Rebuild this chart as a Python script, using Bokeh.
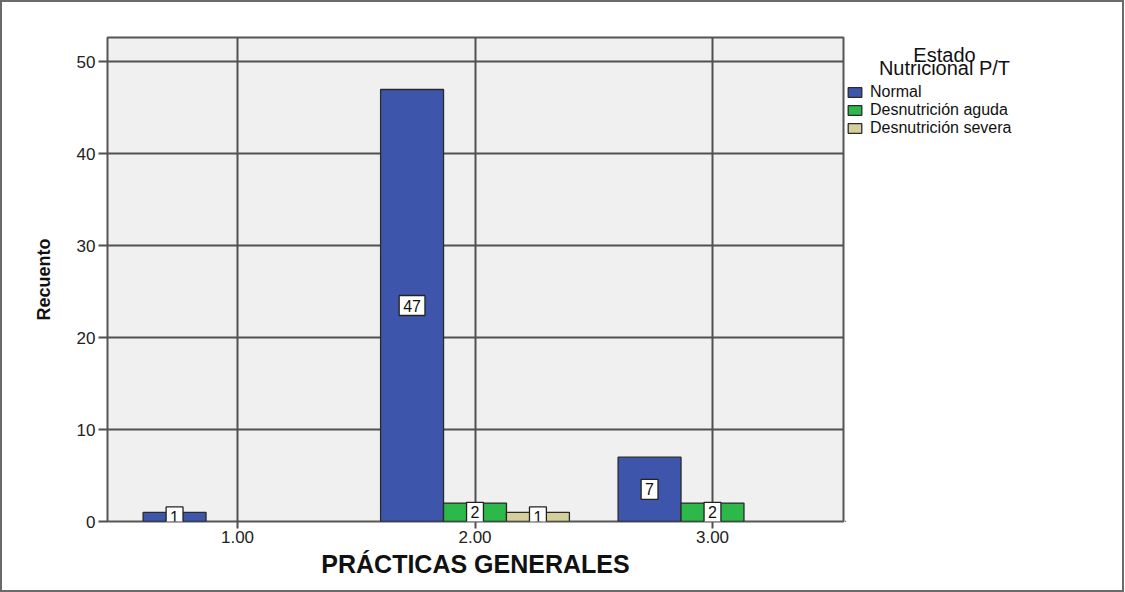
from bokeh.plotting import figure
from bokeh.layouts import row
from bokeh.models import Label, Legend, LegendItem, FixedTicker, Range1d
from bokeh.embed import file_html
from bokeh.resources import INLINE

# Counts per "PRÁCTICAS GENERALES" group, split by nutritional status
groups = [1.0, 2.0, 3.0]
tick_labels = {1: "1.00", 2: "2.00", 3: "3.00"}
series_names = ["Normal", "Desnutrición aguda", "Desnutrición severa"]
normal = [1, 47, 7]
aguda = [0, 2, 2]
severa = [0, 1, 0]
series_values = [normal, aguda, severa]
series_colors = ["#3D56AC", "#2DB84A", "#D5D09B"]
y_ticks = [0, 10, 20, 30, 40, 50]
legend_title = ["Estado", "Nutricional P/T"]

BAR_W = 0.265
offsets = [-BAR_W, 0.0, BAR_W]
H = 588

p = figure(
    width=843, height=H,
    x_range=Range1d(0.4526, 3.5516), y_range=Range1d(0, 52.66),
    output_backend="svg", toolbar_location=None, title=None,
    min_border_left=105, min_border_right=2, min_border_top=35, min_border_bottom=69,
    background_fill_color="#F0F0F0", border_fill_color="white",
)
p.outline_line_color = "#555555"
p.outline_line_width = 2

# grid
p.xgrid.ticker = FixedTicker(ticks=groups)
p.ygrid.ticker = FixedTicker(ticks=y_ticks)
for g in (p.xgrid, p.ygrid):
    g.grid_line_color = "#505050"
    g.grid_line_width = 2
    g.grid_line_alpha = 1.0

# axes
p.xaxis.ticker = FixedTicker(ticks=groups)
p.xaxis.major_label_overrides = tick_labels
p.yaxis.ticker = FixedTicker(ticks=y_ticks)
for ax in (p.xaxis, p.yaxis):
    ax.axis_line_color = None
    ax.minor_tick_line_color = None
    ax.major_tick_in = 0
    ax.major_tick_line_color = "#505050"
    ax.major_tick_line_width = 2
    ax.major_label_text_font = "Liberation Sans"
    ax.major_label_text_font_size = "17px"
    ax.major_label_text_color = "#222222"
p.xaxis.major_tick_out = 7
p.yaxis.major_tick_out = 9
p.xaxis.major_label_standoff = 2
p.yaxis.major_label_standoff = 3

p.xaxis.axis_label = "PRÁCTICAS GENERALES"
p.xaxis.axis_label_text_font = "Liberation Sans"
p.xaxis.axis_label_text_font_style = "bold"
p.xaxis.axis_label_text_font_size = "25px"
p.xaxis.axis_label_text_color = "#111111"
p.xaxis.axis_label_standoff = 4

p.yaxis.axis_label = "Recuento"
p.yaxis.axis_label_text_font = "Liberation Sans"
p.yaxis.axis_label_text_font_style = "bold"
p.yaxis.axis_label_text_font_size = "18px"
p.yaxis.axis_label_text_color = "#111111"
p.yaxis.axis_label_standoff = 20

# bars (empty categories are left out) and boxed value labels at mid-height
for name, vals, color, off in zip(series_names, series_values, series_colors, offsets):
    xs = [g + off for g, v in zip(groups, vals) if v > 0]
    tops = [v for v in vals if v > 0]
    p.vbar(x=xs, top=tops, width=BAR_W, bottom=0,
           fill_color=color, line_color="#2a2a2a", line_width=1.3)
    for x, v in zip(xs, tops):
        p.add_layout(Label(
            x=x, y=v / 2, text=str(v),
            text_align="center", text_baseline="middle",
            text_font="Liberation Sans", text_font_size="16px", text_color="#111111",
            background_fill_color="white", border_line_color="#222222",
            border_line_width=1.3, padding=4,
        ))

# legend panel on the right
W2 = 277
lp = figure(
    width=W2, height=H, x_range=Range1d(0, W2), y_range=Range1d(0, H),
    x_axis_type=None, y_axis_type=None, title=None,
    output_backend="svg", toolbar_location=None,
    min_border=0, outline_line_color=None,
    background_fill_color="white", border_fill_color="white",
)
lp.grid.visible = False

swatches = []
for name, color in zip(series_names, series_colors):
    swatches.append(lp.vbar(x=[-10], top=[-10], bottom=[-20], width=1, fill_color=color,
                            line_color="#2a2a2a", line_width=1.3))

legend = Legend(
    items=[LegendItem(label=n, renderers=[r]) for n, r in zip(series_names, swatches)],
    location=(1, 384), orientation="vertical",
    background_fill_alpha=0, border_line_color=None,
    padding=0, margin=0, spacing=-2,
    glyph_width=17, glyph_height=12, label_standoff=7,
    label_text_font="Liberation Sans", label_text_font_size="16px", label_text_color="#111111",
    label_height=14,
)
lp.add_layout(legend, "center")

for text, y in zip(legend_title, (H - 21, H - 37)):
    lp.add_layout(Label(
        x=99, y=y, text=text,
        text_align="center", text_baseline="middle",
        text_font="Liberation Sans", text_font_size="20px", text_color="#111111",
    ))

layout = row(p, lp, spacing=0, styles={"border": "2px solid #6a6a6a"})

open("out.html", "w").write(file_html(layout, INLINE))
